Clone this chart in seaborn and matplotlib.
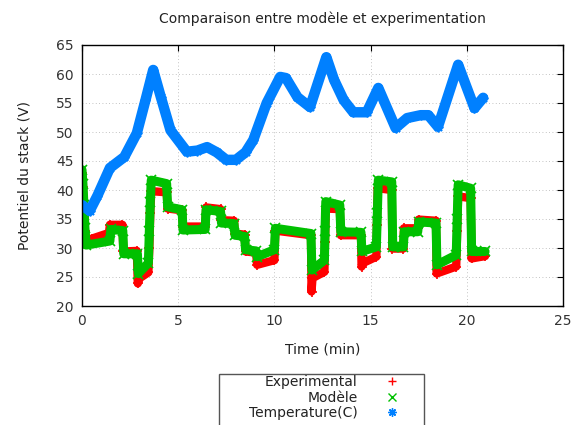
import matplotlib
matplotlib.use("Agg")
import matplotlib.pyplot as plt
import seaborn as sns
from matplotlib.lines import Line2D
from matplotlib.patches import Rectangle

# Experimental stack voltage
t_exp = [0.0, 0.05, 0.1, 0.15, 0.22, 0.5, 1.4, 1.45, 2.1, 2.15, 2.85, 2.9, 3.0, 3.45,
         3.5, 3.55, 3.6, 4.4, 4.45, 5.2, 5.25, 6.4, 6.45, 7.2, 7.25, 7.9, 7.95, 8.45,
         8.5, 9.05, 9.1, 10.0, 10.05, 11.9, 11.93, 11.98, 12.6, 12.63, 12.67, 13.4,
         13.45, 14.5, 14.53, 14.6, 15.3, 15.33, 15.37, 16.1, 16.13, 16.7, 16.73, 17.45,
         17.5, 18.4, 18.43, 19.45, 19.5, 19.55, 20.2, 20.25, 20.95]
v_exp = [43.0, 40.5, 36.5, 33.0, 31.2, 31.6, 32.6, 34.0, 34.0, 29.4, 29.5, 23.9, 24.8, 25.8,
         30.0, 36.0, 39.8, 39.6, 36.8, 36.5, 33.7, 33.7, 37.0, 36.7, 34.8, 34.7, 32.5, 32.3,
         29.4, 29.2, 27.1, 27.9, 33.0, 32.2, 22.5, 24.8, 25.9, 31.0, 36.8, 36.7,
         32.2, 32.2, 26.8, 27.4, 28.5, 34.0, 40.3, 40.0, 29.9, 29.9, 33.4, 33.4,
         34.9, 34.7, 25.6, 26.8, 33.0, 38.9, 38.6, 28.2, 28.6]

# Model stack voltage
t_mod = [0.0, 0.05, 0.1, 0.15, 0.22, 1.45, 1.5, 2.12, 2.17, 2.88, 2.93, 3.45, 3.5, 3.55,
         3.6, 4.4, 4.45, 5.2, 5.25, 6.4, 6.45, 7.2, 7.25, 7.9, 7.95, 8.45, 8.5, 9.05,
         9.1, 10.0, 10.05, 11.9, 11.95, 12.6, 12.63, 12.67, 13.4, 13.45, 14.5, 14.55,
         15.3, 15.35, 15.4, 16.1, 16.15, 16.7, 16.75, 17.45, 17.5, 18.4, 18.45, 19.45,
         19.5, 19.55, 20.2, 20.25, 20.95]
v_mod = [43.5, 41.0, 37.5, 33.5, 30.5, 31.2, 33.2, 33.0, 29.0, 29.0, 25.6, 27.4, 33.0, 38.0,
         41.7, 41.1, 37.1, 36.6, 33.1, 33.2, 36.6, 36.3, 34.3, 34.2, 32.2, 32.0, 29.7, 29.5,
         28.5, 29.7, 33.4, 32.5, 26.2, 27.9, 33.0, 38.0, 37.4, 32.8, 32.7, 29.4,
         30.2, 36.0, 41.7, 41.4, 30.2, 30.2, 32.8, 32.8, 34.5, 34.3, 27.1, 28.8,
         35.0, 40.9, 40.3, 29.4, 29.4]

# Temperature (C)
t_temp = [0.0, 0.4, 0.8, 1.45, 2.2, 2.85, 3.3, 3.7, 4.1, 4.6, 5.45, 6.0, 6.5, 7.0, 7.5,
          8.0, 8.5, 8.9, 9.6, 10.3, 10.6, 11.2, 11.85, 12.7, 13.1, 13.6, 14.1, 14.8,
          15.4, 16.3, 16.9, 17.6, 18.0, 18.5, 19.55, 20.4, 20.85]
v_temp = [37.4, 36.4, 39.0, 43.8, 45.7, 49.8, 55.5, 60.7, 56.0, 50.3, 46.6, 46.8, 47.4,
          46.5, 45.2, 45.2, 46.5, 48.6, 55.0, 59.5, 59.3, 56.0, 54.3, 62.9, 59.0, 55.5,
          53.4, 53.4, 57.6, 50.7, 52.4, 52.9, 52.9, 50.9, 61.6, 54.1, 55.9]

labels = ["Experimental", "Modèle", "Temperature(C)"]
colors = ["#ff0000", "#00c000", "#0080ff"]
markers = ["+", "x", (8, 2, 0)]

sns.set_style("white")
plt.rcParams["font.family"] = ["DejaVu Sans"]
plt.rcParams["font.size"] = 10

fig = plt.figure(figsize=(5.82, 4.25), dpi=100)
ax = fig.add_axes([82 / 582, 1 - 306 / 425, (563 - 82) / 582, (306 - 45) / 425])

series = [(t_exp, v_exp, 6.0), (t_mod, v_mod, 6.5), (t_temp, v_temp, 7.5)]
for (t, v, lw), c, m in zip(series, colors, markers):
    sns.lineplot(x=t, y=v, sort=False, estimator=None, color=c, linewidth=lw,
                 marker=m, markersize=7, markeredgecolor=c, markeredgewidth=1.2, ax=ax)

ax.set_xlim(0, 25)
ax.set_ylim(20, 65)
ax.set_xticks(range(0, 26, 5))
ax.set_yticks(range(20, 66, 5))
ax.set_axisbelow(True)
ax.grid(True, color="#b0b0b0", linestyle=(0, (1, 3)), linewidth=0.6)
for s in ax.spines.values():
    s.set_color("black")
    s.set_linewidth(1.0)
ax.tick_params(direction="in", top=True, right=True, length=4, colors="black",
               labelcolor="#333333", labelsize=10, pad=6)

ax.set_title("Comparaison entre modèle et experimentation", fontsize=10, color="#222222", pad=16)
ax.set_xlabel("Time (min)", fontsize=10, color="#222222", labelpad=10)
ax.set_ylabel("Potentiel du stack (V)", fontsize=10, color="#222222", labelpad=18)

# legend box under the plot, like gnuplot's
fig.patches.append(Rectangle((219 / 582, -0.02), (424 - 219) / 582, 0.02 + 1 - 374 / 425,
                             transform=fig.transFigure, fill=False,
                             edgecolor="#555555", linewidth=1.0))
handles = [Line2D([], [], linestyle="none", marker=m, color=c, markersize=6,
                  markeredgewidth=1.0) for m, c in zip(markers, colors)]
fig.legend(handles, labels, loc="upper right", bbox_to_anchor=(406 / 582, 1 - 375 / 425),
           frameon=False, markerfirst=False, borderpad=0, borderaxespad=0,
           handlelength=2, handletextpad=1.5, labelspacing=0.12, fontsize=10,
           labelcolor="#222222")

fig.savefig("out.png", dpi=100)
